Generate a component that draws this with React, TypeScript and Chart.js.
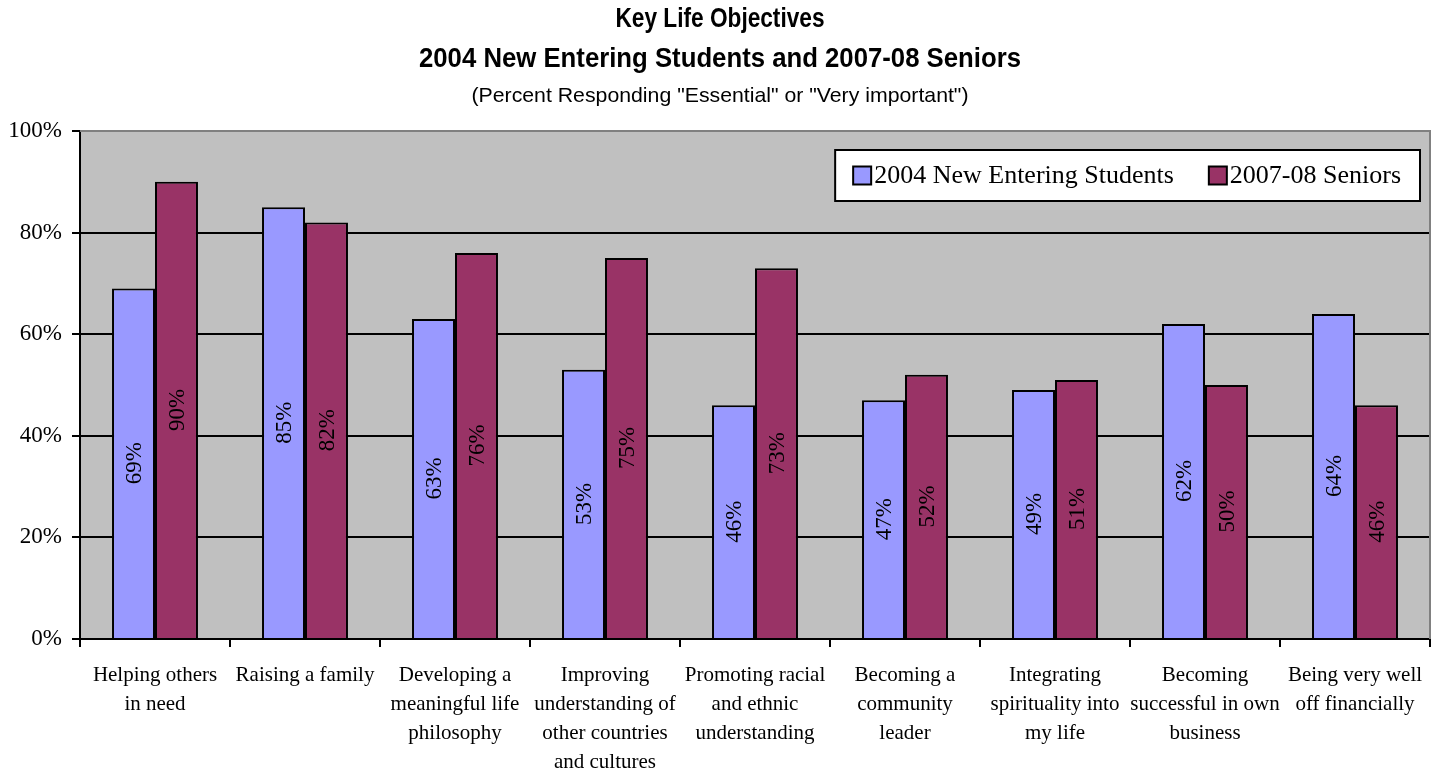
import React, { useEffect, useRef } from "react";
import { Chart, registerables } from "chart.js";

Chart.register(...registerables);

const categories: string[][] = [
  ["Helping others", "in need"],
  ["Raising a family"],
  ["Developing a", "meaningful life", "philosophy"],
  ["Improving", "understanding of", "other countries", "and cultures"],
  ["Promoting racial", "and ethnic", "understanding"],
  ["Becoming a", "community", "leader"],
  ["Integrating", "spirituality into", "my life"],
  ["Becoming", "successful in own", "business"],
  ["Being very well", "off financially"],
];
const newEntering2004 = [69, 85, 63, 53, 46, 47, 49, 62, 64];
const seniors2007 = [90, 82, 76, 75, 73, 52, 51, 50, 46];
const seriesNames = ["2004 New Entering Students", "2007-08 Seniors"];
const seriesColors = ["#9999FF", "#993366"];
const yMin = 0;
const yMax = 100;
const yStep = 20;
const titleLines = ["Key Life Objectives", "2004 New Entering Students and 2007-08 Seniors"];
const subtitleText = '(Percent Responding "Essential" or "Very important")';

const SERIF = '"Liberation Serif", "DejaVu Serif", serif';
const SANS = '"Liberation Sans", Arial, sans-serif';

const titlePlugin = {
  id: "titles",
  afterDraw(chart: any) {
    const ctx: CanvasRenderingContext2D = chart.ctx;
    const cx = chart.width / 2 + 1;
    const items = [
      { text: titleLines[0], font: `bold 27px ${SANS}`, y: 20, w: 209 },
      { text: titleLines[1], font: `bold 27px ${SANS}`, y: 60, w: 602 },
      { text: subtitleText, font: `21px ${SANS}`, y: 96, w: 497 },
    ];
    ctx.save();
    ctx.fillStyle = "#000";
    ctx.textAlign = "center";
    ctx.textBaseline = "middle";
    for (const it of items) {
      ctx.font = it.font;
      const m = ctx.measureText(it.text).width;
      const sx = it.w / m;
      ctx.save();
      ctx.translate(cx, it.y);
      ctx.scale(sx, 1);
      ctx.fillText(it.text, 0, 0);
      ctx.restore();
    }
    ctx.restore();
  },
};

const bgPlugin = {
  id: "plotBg",
  beforeDraw(chart: any) {
    const { ctx, chartArea: a } = chart;
    ctx.save();
    ctx.fillStyle = "#C0C0C0";
    ctx.fillRect(a.left, a.top, a.right - a.left, a.bottom - a.top);
    ctx.restore();
  },
  afterDatasetsDraw(chart: any) {
    const { ctx, chartArea: a } = chart;
    ctx.save();
    ctx.strokeStyle = "#808080";
    ctx.lineWidth = 2;
    ctx.beginPath();
    ctx.moveTo(a.left, a.top);
    ctx.lineTo(a.right, a.top);
    ctx.lineTo(a.right, a.bottom);
    ctx.stroke();
    ctx.restore();
  },
};

const labelPlugin = {
  id: "barLabels",
  afterDatasetsDraw(chart: any) {
    const ctx: CanvasRenderingContext2D = chart.ctx;
    ctx.save();
    ctx.fillStyle = "#000";
    ctx.font = `23px ${SERIF}`;
    ctx.textAlign = "center";
    ctx.textBaseline = "middle";
    chart.data.datasets.forEach((ds: any, di: number) => {
      const meta = chart.getDatasetMeta(di);
      meta.data.forEach((bar: any, i: number) => {
        const cy = (bar.y + bar.base) / 2;
        ctx.save();
        ctx.translate(bar.x, cy);
        ctx.rotate(-Math.PI / 2);
        ctx.fillText(`${ds.data[i]}%`, 0, 1);
        ctx.restore();
      });
    });
    ctx.restore();
  },
};

const legendPlugin = {
  id: "boxLegend",
  afterDatasetsDraw(chart: any) {
    const ctx: CanvasRenderingContext2D = chart.ctx;
    const a = chart.chartArea;
    const right = a.right - 10;
    const top = a.top + 19;
    const h = 51;
    const sw = 18;
    const gapSwText = 3;
    const itemGap = 35;
    const padL = 18;
    const padR = 19;
    ctx.save();
    ctx.font = `26px ${SERIF}`;
    const widths = seriesNames.map((n) => ctx.measureText(n).width);
    const total = padL + widths.reduce((s, w) => s + sw + gapSwText + w, 0) + itemGap + padR;
    const left = right - total;
    ctx.fillStyle = "#fff";
    ctx.fillRect(left, top, total, h);
    ctx.strokeStyle = "#000";
    ctx.lineWidth = 2;
    ctx.strokeRect(left, top, total, h);
    let x = left + padL;
    const cy = top + h / 2;
    seriesNames.forEach((n, i) => {
      ctx.fillStyle = seriesColors[i];
      ctx.fillRect(x, cy - sw / 2, sw, sw);
      ctx.lineWidth = 2;
      ctx.strokeRect(x, cy - sw / 2, sw, sw);
      ctx.fillStyle = "#000";
      ctx.textAlign = "left";
      ctx.textBaseline = "middle";
      ctx.fillText(n, x + sw + gapSwText, cy + 1);
      x += sw + gapSwText + widths[i] + itemGap;
    });
    ctx.restore();
  },
};

export default function App() {
  const ref = useRef<HTMLCanvasElement>(null);
  useEffect(() => {
    document.body.style.margin = "0";
    const canvas = ref.current!;
    const chart = new Chart(canvas, {
      type: "bar",
      data: {
        labels: categories,
        datasets: [
          {
            label: seriesNames[0],
            data: newEntering2004,
            backgroundColor: seriesColors[0],
            borderColor: "#000",
            borderWidth: 2,
            barPercentage: 1,
            categoryPercentage: 0.573,
          },
          {
            label: seriesNames[1],
            data: seniors2007,
            backgroundColor: seriesColors[1],
            borderColor: "#000",
            borderWidth: 2,
            barPercentage: 1,
            categoryPercentage: 0.573,
          },
        ],
      },
      options: {
        responsive: false,
        animation: false,
        devicePixelRatio: 1,
        layout: { padding: { top: 131, right: 8, left: 0, bottom: 0 } },
        plugins: {
          legend: { display: false },
          title: { display: false },
          tooltip: { enabled: false },
        },
        scales: {
          x: {
            ticks: {
              color: "#000",
              font: { family: SERIF, size: 21, lineHeight: 1.38 },
              padding: 14,
              maxRotation: 0,
              minRotation: 0,
              autoSkip: false,
            },
            grid: { drawOnChartArea: false, tickColor: "#000", tickLength: 8, offset: true, lineWidth: 2 },
            border: { color: "#000", width: 2 },
            afterFit: (s: any) => {
              s.height = 135;
            },
          },
          y: {
            min: yMin,
            max: yMax,
            ticks: {
              stepSize: yStep,
              color: "#000",
              font: { family: SERIF, size: 23 },
              padding: 10,
              callback: (v: any) => `${v}%`,
            },
            grid: {
              color: (c: any) => (c.tick && c.tick.value === yMax ? "#808080" : "#000"),
              lineWidth: 2,
              tickColor: "#000",
              tickLength: 8,
            },
            border: { color: "#000", width: 2 },
            afterFit: (s: any) => {
              s.width = 80;
            },
          },
        },
      },
      plugins: [bgPlugin, labelPlugin, legendPlugin, titlePlugin],
    } as any);
    return () => chart.destroy();
  }, []);
  return (
    <div style={{ width: 1438, height: 774 }}>
      <canvas ref={ref} width={1438} height={774} />
    </div>
  );
}
